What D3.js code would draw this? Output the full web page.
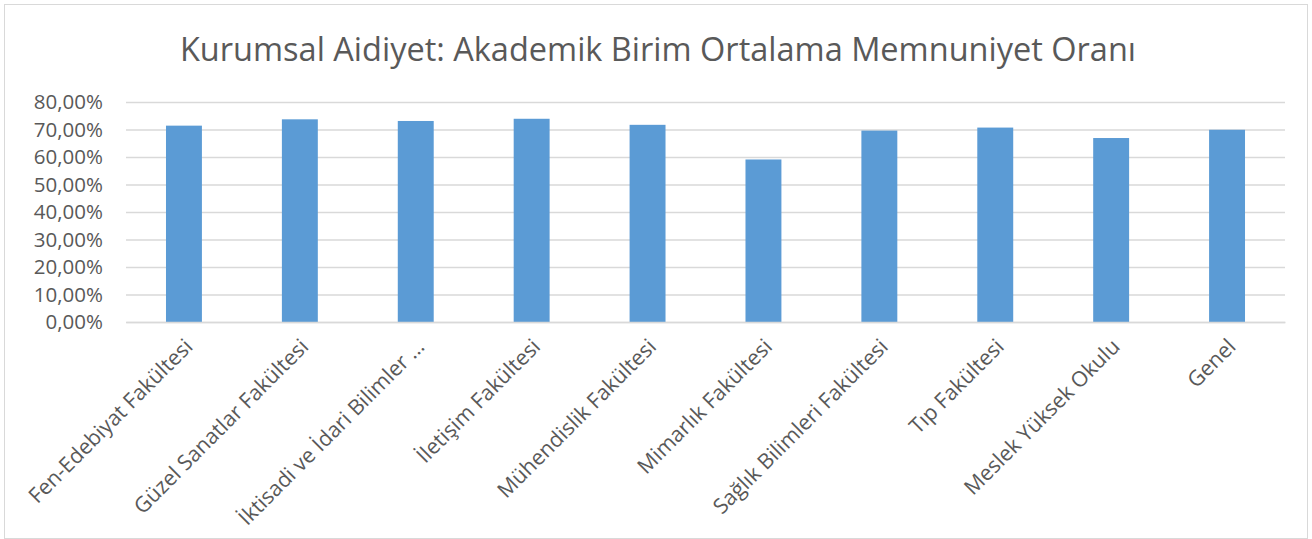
<!DOCTYPE html>
<html>
<head>
<meta charset="utf-8">
<script src="https://cdn.jsdelivr.net/npm/d3@7"></script>
<style>
  body { margin: 0; background: #fff; }
  text { font-family: "Open Sans", "Noto Sans", sans-serif; fill: #595959; }
</style>
</head>
<body>
<div id="chart"></div>
<script>
// --- DONNÉES ---
const birimler = ["Fen-Edebiyat Fakültesi", "Güzel Sanatlar Fakültesi", "İktisadi ve İdari Bilimler …",
  "İletişim Fakültesi", "Mühendislik Fakültesi", "Mimarlık Fakültesi", "Sağlık Bilimleri Fakültesi",
  "Tıp Fakültesi", "Meslek Yüksek Okulu", "Genel"];
const memnuniyet = [0.714, 0.737, 0.731, 0.739, 0.717, 0.591, 0.696, 0.707, 0.669, 0.699];
const yTicks = [0, 0.1, 0.2, 0.3, 0.4, 0.5, 0.6, 0.7, 0.8];
const baslik = "Kurumsal Aidiyet: Akademik Birim Ortalama Memnuniyet Oranı";

const largeur = 1312, hauteur = 539;
const marge = { left: 126, right: 27, top: 102, bottom: 217 };

const svg = d3.select("#chart").append("svg")
  .attr("width", largeur).attr("height", hauteur);

// cadre du graphique
svg.append("rect")
  .attr("x", 4.5).attr("y", 4.5)
  .attr("width", largeur - 9).attr("height", hauteur - 5)
  .attr("fill", "none").attr("stroke", "#d9d9d9").attr("stroke-width", 1);

// titre
svg.append("text")
  .attr("x", 658).attr("y", 61)
  .attr("text-anchor", "middle")
  .style("font-size", "32.5px")
  .text(baslik);

const x = d3.scaleBand()
  .domain(birimler)
  .range([marge.left, largeur - marge.right])
  .paddingInner(0.69).paddingOuter(0.345);

const y = d3.scaleLinear()
  .domain([0, 0.8])
  .range([hauteur - marge.bottom, marge.top]);

const fmt = v => d3.format(".2f")(v * 100).replace(".", ",") + "%";

// grille + axe Y
const yAxis = svg.append("g")
  .attr("transform", `translate(${marge.left},0)`)
  .call(d3.axisLeft(y).tickValues(yTicks).tickFormat(fmt)
    .tickSize(-(largeur - marge.left - marge.right)).tickPadding(23));
yAxis.select(".domain").remove();
yAxis.selectAll(".tick line").attr("stroke", "#d9d9d9").attr("stroke-width", 1.4);
yAxis.selectAll(".tick text").style("font-size", "20.5px").attr("fill", "#595959").attr("dy", "0.34em");

// barres
svg.append("g").selectAll("rect")
  .data(birimler)
  .join("rect")
  .attr("x", d => x(d))
  .attr("width", x.bandwidth())
  .attr("y", (d, i) => y(memnuniyet[i]))
  .attr("height", (d, i) => y(0) - y(memnuniyet[i]))
  .attr("fill", "#5b9bd5");

// axe X (étiquettes inclinées)
const xAxis = svg.append("g")
  .attr("transform", `translate(0,${y(0)})`)
  .call(d3.axisBottom(x).tickSize(0).tickSizeOuter(0));
xAxis.select(".domain").attr("stroke", "#d9d9d9").attr("stroke-width", 1.4);
xAxis.selectAll(".tick text")
  .style("font-size", "21.3px")
  .attr("fill", "#595959")
  .attr("text-anchor", "end")
  .attr("dy", 0).attr("y", 0)
  .attr("transform", "translate(10,26) rotate(-45)");
</script>
</body>
</html>
